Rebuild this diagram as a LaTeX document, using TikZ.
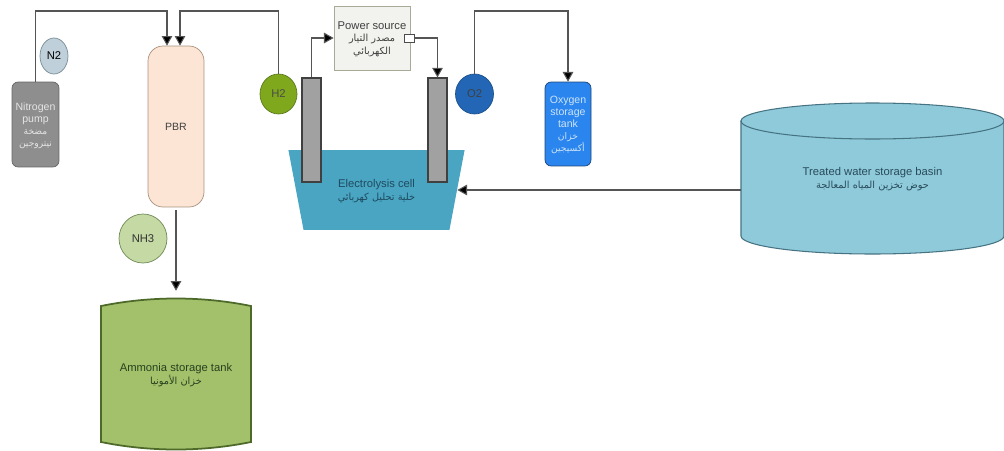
\documentclass[tikz,border=0pt]{standalone}
\usepackage{fontspec}
\setmainfont{Liberation Sans}
\newfontfamily\arabicfont[Script=Arabic,Scale=0.87]{DejaVu Sans}
\TeXXeTstate=1
\newcommand{\arline}[1]{{\arabicfont\beginR #1\endR}}
\usepackage{xcolor}
\usetikzlibrary{shapes.geometric, arrows.meta, positioning, calc}
\definecolor{linegray}{HTML}{555555}
\definecolor{cellblue}{RGB}{73,165,194}
\definecolor{celltext}{RGB}{30,75,95}
\definecolor{nfill}{RGB}{192,208,218}
\definecolor{ndraw}{RGB}{120,140,150}
\definecolor{pumpfill}{RGB}{142,142,142}
\definecolor{pbrfill}{RGB}{252,229,213}
\definecolor{pbrdraw}{RGB}{170,145,125}
\definecolor{hfill}{RGB}{127,168,28}
\definecolor{hdraw}{RGB}{90,120,30}
\definecolor{nhfill}{RGB}{197,217,165}
\definecolor{nhdraw}{RGB}{110,138,85}
\definecolor{powerfill}{RGB}{242,242,238}
\definecolor{powerdraw}{RGB}{168,170,152}
\definecolor{ofill}{RGB}{34,102,181}
\definecolor{odraw}{RGB}{30,80,140}
\definecolor{oxyfill}{RGB}{42,133,238}
\definecolor{oxydraw}{RGB}{30,70,120}
\definecolor{oxytext}{RGB}{205,228,250}
\definecolor{basinfill}{RGB}{143,202,219}
\definecolor{basindraw}{RGB}{70,115,130}
\definecolor{basintext}{RGB}{40,75,90}
\definecolor{amfill}{RGB}{163,192,107}
\definecolor{amdraw}{RGB}{78,106,42}
\definecolor{amtext}{RGB}{40,65,30}

\begin{document}
\begin{tikzpicture}[
    x=0.02cm, y=-0.02cm,
    txt/.style={align=center, font=\fontsize{6.4}{7.3}\selectfont, inner sep=0pt, text depth=0pt},
    gas/.style={ellipse, draw, txt},
    tank/.style={rectangle, draw, rounded corners=3.5pt, txt, font=\fontsize{6}{6.9}\selectfont},
    electrode/.style={rectangle, draw=black!75, fill=black!37, minimum width=0.38cm, minimum height=2.08cm, line width=0.6pt},
    arrow/.style={draw=linegray, line width=0.6pt, -{Triangle[length=5.5pt,width=6pt,fill=black]}},
]
    \useasboundingbox (0,0) rectangle (1004,450);
    \coordinate (pipetop) at (0,11);

    \node[trapezium, trapezium left angle=69, trapezium right angle=69, shape border rotate=180, trapezium stretches,
          fill=cellblue, minimum width=3.54cm, minimum height=1.6cm, txt, text=celltext]
          (cell) at (376.5,190) {Electrolysis cell\\\arline{خلية تحليل كهربائي}};
    \node[electrode] (cathode) at (311.5,130) {};
    \node[electrode] (anode) at (437.5,130) {};

    \node[gas, fill=nfill, draw=ndraw, minimum width=0.56cm, minimum height=0.72cm] (n2) at (54,56) {N2};
    \node[tank, fill=pumpfill, draw=black!60, text=white!90!black, minimum width=0.94cm, minimum height=1.7cm] (pump) at (35.5,124.5) {Nitrogen\\pump\\\arline{مضخة}\\\arline{نيتروجين}};
    \node[tank, rounded corners=8.5pt, fill=pbrfill, draw=pbrdraw, text=black!75, minimum width=1.12cm, minimum height=3.22cm] (pbr) at (176,126.5) {PBR};
    \coordinate (pbrA) at ($(pbr.north)+(-9,0)$);
    \coordinate (pbrB) at ($(pbr.north)+(4,0)$);
    \node[gas, fill=hfill, draw=hdraw, text=black!70, minimum width=0.74cm, minimum height=0.8cm] (h2) at (278.5,94) {H2};
    \node[gas, fill=nhfill, draw=nhdraw, text=black!80, minimum width=0.96cm, minimum height=0.98cm] (nh3) at (143,238.5) {NH3};

    \node[rectangle, draw=powerdraw, fill=powerfill, txt, text=black!75, minimum width=1.52cm, minimum height=1.28cm] (power) at (372,38) {Power source\\\arline{مصدر التيار}\\\arline{الكهربائي}};
    \node[rectangle, draw=black!70, fill=white, minimum width=0.2cm, minimum height=0.16cm, inner sep=0pt] (port) at (409,38) {};
    \node[gas, fill=ofill, draw=odraw, text=black!75, minimum width=0.76cm, minimum height=0.8cm] (o2) at (474.5,94) {O2};
    \node[tank, fill=oxyfill, draw=oxydraw, text=oxytext, minimum width=0.92cm, minimum height=1.68cm] (oxygen) at (568,124) {Oxygen\\storage\\tank\\\arline{خزان}\\\arline{أكسيجين}};

    % basin outline
    \draw[draw=basindraw, fill=basinfill, line width=0.6pt] (741,121) -- (741,236) arc[start angle=180, end angle=0, x radius=131.5, y radius=18] -- (1004,121) arc[start angle=0, end angle=-180, x radius=131.5, y radius=18] -- cycle;
    \draw[draw=basindraw, line width=0.6pt] (741,121) arc[start angle=180, end angle=0, x radius=131.5, y radius=18];
    \node[txt, text=basintext, minimum width=5.26cm] (basin) at (872.5,178) {Treated water storage basin\\\arline{حوض تخزين المياه المعالجة}};

    % ammonia tank outline
    \draw[draw=amdraw, fill=amfill, line width=1pt] (101,306) .. controls (150,296) and (202,296) .. (251,306) -- (251,442) .. controls (202,452) and (150,452) .. (101,442) -- cycle;
    \node[txt, text=amtext, minimum width=3cm, minimum height=2.72cm] (ammonia) at (176,374) {Ammonia storage tank\\\arline{خزان الأمونيا}};

    \draw[arrow] (pump.north) -- (pump.north |- pipetop) -| (pbrA);
    \draw[arrow] (h2.north) -- (h2.north |- pipetop) -| (pbrB);
    \draw[arrow, shorten <=1.7pt, shorten >=8.5pt] (pbr.south) -- (pbr.south |- ammonia.north);
    \draw[arrow] (cathode.north) |- (power.west);
    \draw[arrow] (port.east) -| (anode.north);
    \draw[arrow] (o2.north) -- (o2.north |- pipetop) -| (oxygen.north);
    \draw[arrow] (basin.west |- cell.east) -- (cell.east);
\end{tikzpicture}
\end{document}
